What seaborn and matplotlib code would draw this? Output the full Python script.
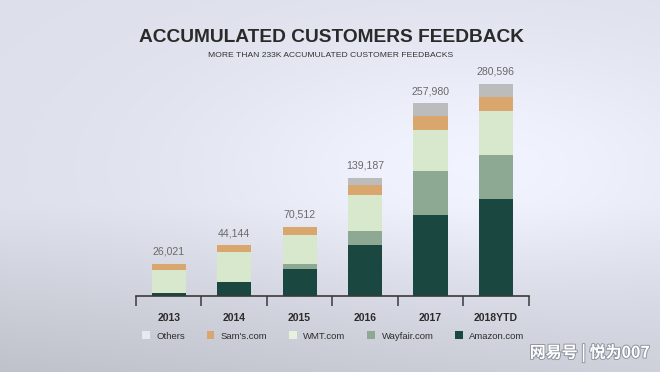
import numpy as np
import pandas as pd
import matplotlib.pyplot as plt
import matplotlib.patheffects as pe
from matplotlib.patches import Patch
import seaborn as sns

sns.set_theme(style="white")
plt.rcParams['font.family'] = ['Liberation Sans', 'DejaVu Sans']

# Data (segment heights, bottom to top)
years = ['2013', '2014', '2015', '2016', '2017', '2018YTD']
amazon = [4600, 18800, 36000, 66800, 106300, 127400]
wayfair = [0, 0, 5800, 18800, 58300, 57900]
wmt = [29600, 38700, 38600, 47000, 54900, 58300]
sams = [8300, 9200, 10900, 13600, 18400, 18400]
others = [0, 0, 0, 9600, 16600, 18000]
total_labels = ['26,021', '44,144', '70,512', '139,187', '257,980', '280,596']

series = ['Amazon.com', 'Wayfair.com', 'WMT.com', "Sam's.com", 'Others']
colors = ['#1b4741', '#8ea993', '#d7e8cd', '#d9a76d', '#bcbcbc']
legend_colors = ['#1b4741', '#8ea993', '#e6f2de', '#d9a76d', '#e6e9ef']

df = pd.DataFrame({'year': years, 'Amazon.com': amazon, 'Wayfair.com': wayfair,
                   'WMT.com': wmt, "Sam's.com": sams, 'Others': others})
cum = df[series].cumsum(axis=1)

fig = plt.figure(figsize=(6.6, 3.72), dpi=100)

# background: light bluish grey, white glow to the right, darker at the bottom
bg = fig.add_axes([0, 0, 1, 1], zorder=-10)
yy, xx = np.mgrid[0:1:200j, 0:1:300j]
glow = np.exp(-((xx - 0.72) ** 2 / 0.18 + (yy - 0.45) ** 2 / 0.12))
dark = np.clip(yy - 0.55, 0, None) * (1.1 - 0.5 * xx)
val = 0.90 + 0.08 * glow - 0.25 * dark
rgb = np.dstack([val * 0.965, val * 0.975, val * 1.0 + 0.02]).clip(0, 1)
bg.imshow(rgb, aspect='auto', extent=[0, 1, 0, 1], origin='upper')
bg.axis('off')

ax = fig.add_axes([0.206, 0.204, 0.595, 0.612])
ax.patch.set_alpha(0)

# stacked bars: draw cumulative totals from top layer down
for name, c in zip(series[::-1], colors[::-1]):
    sns.barplot(x=df['year'], y=cum[name], color=c, width=0.52, saturation=1,
                edgecolor='none', linewidth=0, ax=ax, zorder=2)

tops = cum['Others'].values
for i, lab in enumerate(total_labels):
    ax.annotate(lab, (i, tops[i]), xytext=(0, 5), textcoords='offset points',
                ha='center', va='bottom', fontsize=7.6, color='#6a6a6a')

ax.set_xlim(-0.5, 5.5)
ax.set_ylim(0, 300000)
sns.despine(ax=ax, left=True)
ax.spines['bottom'].set_color('#3a3a3a')
ax.spines['bottom'].set_linewidth(1.2)
ax.set_yticks([])
ax.set_xlabel('')
ax.set_ylabel('')
ax.set_xticks(range(len(years)))
ax.set_xticklabels(years, fontsize=7.5, fontweight='bold', color='#2b2b2b')
ax.set_xticks(np.arange(-0.5, 6, 1), minor=True)
ax.tick_params(axis='x', which='major', length=0, pad=12)
ax.tick_params(axis='x', which='minor', length=7, width=1.1, color='#3a3a3a',
               direction='out', bottom=True)

fig.text(0.502, 0.898, 'ACCUMULATED CUSTOMERS FEEDBACK', ha='center', va='center',
         fontsize=13.8, fontweight='bold', color='#2a2a2a')
fig.text(0.501, 0.851, 'MORE THAN 233K ACCUMULATED CUSTOMER FEEDBACKS', ha='center',
         va='center', fontsize=6.1, color='#333333')

handles = [Patch(facecolor=c, edgecolor='none') for c in legend_colors[::-1]]
fig.legend(handles, series[::-1], loc='center', bbox_to_anchor=(0.505, 0.097), ncol=5,
           frameon=False, fontsize=6.8, handlelength=0.8, handleheight=0.9,
           handletextpad=0.7, columnspacing=2.3, labelcolor='#2e2e2e')

fig.text(0.985, 0.052, '网易号 | 悦为007', ha='right', va='center', fontsize=11.5,
         fontweight='bold', color='white', family=['Noto Sans CJK SC', 'DejaVu Sans'],
         path_effects=[pe.withStroke(linewidth=1.4, foreground='#8f95a0')])

fig.savefig('out.png', dpi=100)
